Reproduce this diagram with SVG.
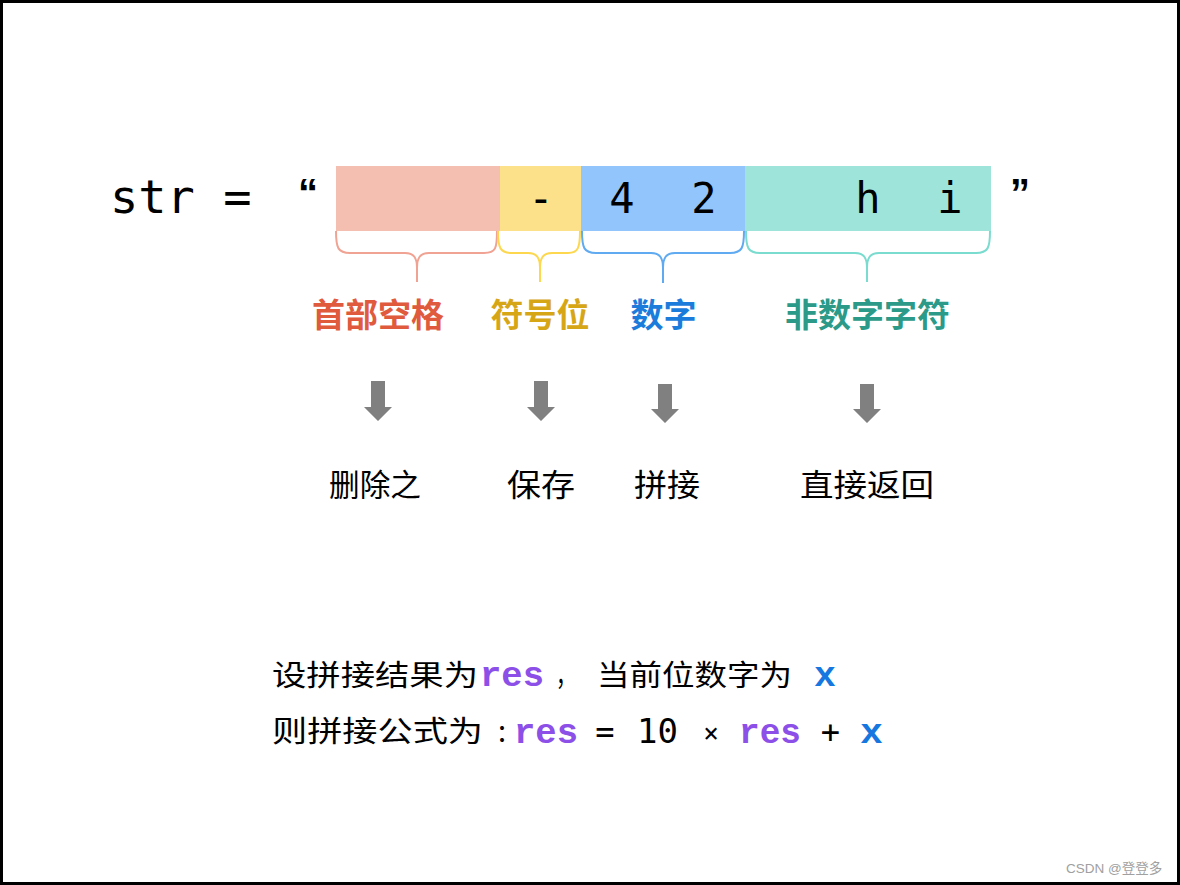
<svg xmlns="http://www.w3.org/2000/svg" width="1180" height="885" viewBox="0 0 1180 885">
  <defs>
    <style>
      .mono { font-family: "DejaVu Sans Mono", "Liberation Mono", monospace; fill: #000; }
      .cell { font-family: "DejaVu Sans Mono", "Liberation Mono", monospace; font-size: 42px; fill: #000; text-anchor: middle; }
      .lbl { font-family: "Noto Sans CJK SC", "Noto Sans", sans-serif; font-size: 33px; font-weight: 700; text-anchor: middle; }
      .act { font-family: "Noto Sans CJK SC", "Noto Sans", sans-serif; font-size: 31px; fill: #000; }
      .cn { font-family: "Noto Sans CJK SC", "Noto Sans", sans-serif; font-size: 29px; fill: #000; }
      .var { font-family: "Liberation Mono", "DejaVu Sans Mono", monospace; font-size: 35px; font-weight: 700; }
      .res { fill: #8C4FE8; }
      .x { fill: #1677E0; }
      .brace { fill: none; stroke-width: 2; }
      .arrow { fill: #808080; }
    </style>
  </defs>
  <rect x="1.5" y="1.5" width="1177" height="882" fill="#fff" stroke="#000" stroke-width="3"/>

  <g id="str-label">
    <text class="mono" x="110" y="213" font-size="47">str =</text>
    <text x="298" y="207" font-family="Liberation Sans, sans-serif" font-size="40" font-weight="700">“</text>
    <text x="1010" y="207" font-family="Liberation Sans, sans-serif" font-size="40" font-weight="700">”</text>
  </g>

  <g id="seg-spaces">
    <rect x="336" y="166" width="164" height="65" fill="#F4BEB0"/>
    <text class="lbl" x="378" y="327" fill="#E05A3E">首部空格</text>
  </g>
  <g id="seg-sign">
    <rect x="500" y="166" width="81" height="65" fill="#FDE18A"/>
    <text class="cell" x="541" y="213">-</text>
    <text class="lbl" x="540" y="327" fill="#D7A617">符号位</text>
  </g>
  <g id="seg-digits">
    <rect x="581" y="166" width="164" height="65" fill="#92C5FB"/>
    <text class="cell" x="622" y="213">4</text>
    <text class="cell" x="704" y="213">2</text>
    <text class="lbl" x="663.5" y="327" fill="#1C7CDC">数字</text>
  </g>
  <g id="seg-rest">
    <rect x="745" y="166" width="246" height="65" fill="#9EE4DA"/>
    <text class="cell" x="868" y="213">h</text>
    <text class="cell" x="950" y="213">i</text>
    <text class="lbl" x="867.5" y="327" fill="#2C9A88">非数字字符</text>
  </g>

  <g id="connectors">
    <path class="brace" stroke="#F0A393" d="M336,231 C336,248 338,253 350,253 L405,253 C414,253 417,258 417,268 L417,282 M417,268 C417,258 420,253 429,253 L484,253 C496,253 497,248 497,231"/>
    <path class="brace" stroke="#FDD84F" d="M498,231 C498,248 500,253 512,253 L528,253 C537,253 540,258 540,268 L540,282 M540,268 C540,258 543,253 552,253 L568,253 C578,253 580,248 580,231"/>
    <path class="brace" stroke="#5FAAF0" d="M582,231 C582,248 584,253 596,253 L651,253 C660,253 663,258 663,268 L663,283 M663,268 C663,258 666,253 675,253 L730,253 C742,253 744,248 744,231"/>
    <path class="brace" stroke="#7ADBCF" d="M746,231 C746,248 748,253 760,253 L855,253 C864,253 867,258 867,268 L867,282 M867,268 C867,258 870,253 879,253 L976,253 C988,253 990,248 990,231"/>
    <polygon class="arrow" points="371,381 385,381 385,407 392,407 378,421 364,407 371,407"/>
    <polygon class="arrow" points="534,381 548,381 548,407 555,407 541,421 527,407 534,407"/>
    <polygon class="arrow" points="658,384 672,384 672,409 679,409 665,423 651,409 658,409"/>
    <polygon class="arrow" points="860,384 874,384 874,409 881,409 867,423 853,409 860,409"/>
  </g>

  <g id="act-delete"><text class="act" x="329" y="496" textLength="92" lengthAdjust="spacingAndGlyphs">删除之</text></g>
  <g id="act-keep"><text class="act" x="507" y="496" textLength="68" lengthAdjust="spacingAndGlyphs">保存</text></g>
  <g id="act-concat"><text class="act" x="634" y="496" textLength="66" lengthAdjust="spacingAndGlyphs">拼接</text></g>
  <g id="act-return"><text class="act" x="800" y="496" textLength="134" lengthAdjust="spacingAndGlyphs">直接返回</text></g>

  <g id="formula-line1">
    <text class="cn" x="272" y="686" textLength="206" lengthAdjust="spacingAndGlyphs">设拼接结果为</text>
    <text class="var res" x="480" y="686" textLength="64" lengthAdjust="spacingAndGlyphs">res</text>
    <text class="cn" x="556" y="686" textLength="20" lengthAdjust="spacingAndGlyphs">，</text>
    <text class="cn" x="597" y="686" textLength="195" lengthAdjust="spacingAndGlyphs">当前位数字为</text>
    <text class="var x" x="814" y="686" textLength="22" lengthAdjust="spacingAndGlyphs">x</text>
  </g>
  <g id="formula-line2">
    <text class="cn" x="272" y="742" textLength="211" lengthAdjust="spacingAndGlyphs">则拼接公式为</text>
    <text class="cn" x="498" y="742">:</text>
    <text class="var res" x="514" y="743" textLength="64" lengthAdjust="spacingAndGlyphs">res</text>
    <text class="mono" x="605" y="743" font-size="32" text-anchor="middle">=</text>
    <text class="mono" x="657.5" y="743" font-size="34" text-anchor="middle">10</text>
    <text class="mono" x="711" y="742" font-size="26" text-anchor="middle">×</text>
    <text class="var res" x="739" y="743" textLength="62" lengthAdjust="spacingAndGlyphs">res</text>
    <text class="mono" x="830.5" y="743" font-size="32" text-anchor="middle">+</text>
    <text class="var x" x="860" y="743" textLength="23" lengthAdjust="spacingAndGlyphs">x</text>
  </g>

  <g id="watermark">
    <text x="1066" y="873" font-family="Liberation Sans, Noto Sans CJK SC, sans-serif" font-size="13.5" fill="#A0A0A0">CSDN @登登多</text>
  </g>
</svg>
